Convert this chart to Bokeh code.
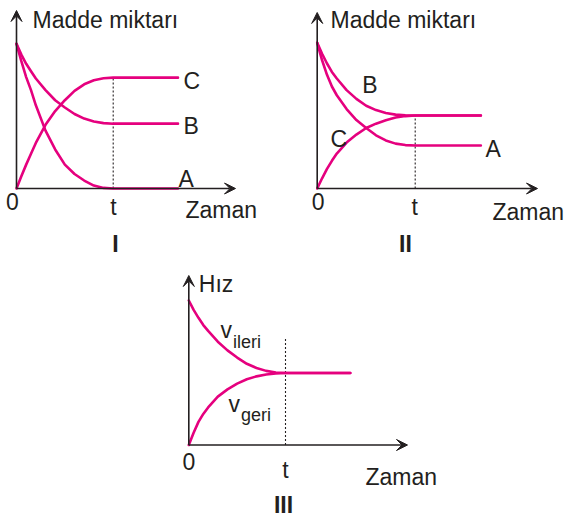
from bokeh.plotting import figure
from bokeh.models import Range1d, Label, Arrow, VeeHead, Spacer
from bokeh.layouts import row, column
from bokeh.embed import file_html
from bokeh.resources import INLINE

# ---------------- data (time in units of t, amounts relative to the start value) -------------
time = [0, 0.05, 0.1, 0.15, 0.2, 0.3, 0.4, 0.5, 0.6, 0.7, 0.8, 0.9, 1.0, 1.67]
t_eq = 1.0
time_ticks = ["0", "t"]

# Panel I
I_A = [1.0, 0.88, 0.77, 0.68, 0.575, 0.40, 0.27, 0.165, 0.10, 0.055, 0.02, 0.004, 0.0, 0.0]
I_B = [1.0, 0.925, 0.862, 0.81, 0.76, 0.68, 0.61, 0.56, 0.515, 0.483, 0.463, 0.452, 0.448, 0.448]
I_C = [0.0, 0.085, 0.165, 0.24, 0.315, 0.44, 0.535, 0.61, 0.675, 0.72, 0.748, 0.762, 0.766, 0.766]
# Panel II
II_A = [1.0, 0.88, 0.78, 0.70, 0.64, 0.545, 0.47, 0.415, 0.365, 0.33, 0.308, 0.298, 0.295, 0.295]
II_B = [1.0, 0.925, 0.858, 0.80, 0.755, 0.675, 0.615, 0.568, 0.538, 0.518, 0.507, 0.502, 0.501, 0.501]
II_C = [0.0, 0.07, 0.135, 0.19, 0.24, 0.315, 0.37, 0.415, 0.445, 0.468, 0.487, 0.497, 0.501, 0.501]
# Panel III
v_ileri = [1.0, 0.935, 0.88, 0.83, 0.79, 0.715, 0.655, 0.605, 0.562, 0.533, 0.513, 0.502, 0.498, 0.498]
v_geri = [0.0, 0.085, 0.16, 0.215, 0.26, 0.335, 0.385, 0.425, 0.455, 0.475, 0.488, 0.495, 0.498, 0.498]

# ---------------- styling ----------------
PINK = "#E5007E"
INK = "#231F20"
FONT = "Liberation Sans"
FS = 23
SUB = 18
ROMAN = 23
BASE_FIX = 0.3  # empirical shift (in em) between requested and rendered baseline


def make_panel(fig_x, fig_y, w, h, ox, oy, ux, uy):
    """fig_x/fig_y: page position of the figure; ox/oy: page position of the origin; ux/uy: px per unit."""
    p = figure(width=w, height=h, output_backend="svg", toolbar_location=None,
               x_axis_type=None, y_axis_type=None, min_border=0,
               x_range=Range1d((fig_x - ox) / ux, (fig_x + w - ox) / ux),
               y_range=Range1d((oy - (fig_y + h)) / uy, (oy - fig_y) / uy))
    p.outline_line_color = None
    p.background_fill_color = "white"
    p.border_fill_color = "white"

    def conv(px, py):
        return (px - ox) / ux, (oy - py) / uy
    return p, conv


def label(p, conv, text, px, py, size=FS, align="left", bold=False):
    x, y = conv(px, py - BASE_FIX * size)
    p.add_layout(Label(x=x, y=y, text=text, text_font=FONT, text_font_size=f"{size}px",
                       text_align=align, text_baseline="alphabetic", text_color=INK,
                       text_font_style="bold" if bold else "normal"))


def axes(p, conv, xtip_px, ytip_px):
    xe, _ = conv(xtip_px, 0)
    _, ye = conv(0, ytip_px)
    for (x1, y1) in [(xe, 0), (0, ye)]:
        p.add_layout(Arrow(x_start=0, y_start=0, x_end=x1, y_end=y1, line_width=1.6,
                           line_color=INK,
                           end=VeeHead(size=11, fill_color=INK, line_color=INK, line_width=1)))


def curve(p, ys):
    p.line(time, ys, line_color=PINK, line_width=2.6, line_join="round", line_cap="round")


def dotted(p, top):
    p.line([t_eq, t_eq], [0, top], line_color=INK, line_width=1.1, line_dash="2 2")


# ---------------- Panel I ----------------
p1, c1 = make_panel(0, 0, 290, 262, 16, 188, 96.7, 144.7)
dotted(p1, I_C[-1])
axes(p1, c1, 235, 10)
for ys in (I_A, I_B, I_C):
    curve(p1, ys)
label(p1, c1, "Madde miktarı", 32, 26.7)
label(p1, c1, "C", 183, 87.3)
label(p1, c1, "B", 183, 132.3)
label(p1, c1, "A", 178, 185)
label(p1, c1, time_ticks[0], 12, 208, align="center")
label(p1, c1, time_ticks[1], 113, 213, align="center")
label(p1, c1, "Zaman", 185, 216.7)
label(p1, c1, "I", 115, 250, size=ROMAN, align="center", bold=True)

# ---------------- Panel II ----------------
p2, c2 = make_panel(290, 0, 278, 262, 316.7, 188, 98, 145.7)
dotted(p2, II_B[-1])
axes(p2, c2, 537, 12)
for ys in (II_A, II_B, II_C):
    curve(p2, ys)
label(p2, c2, "Madde miktarı", 330, 26.7)
label(p2, c2, "B", 361.7, 91.7)
label(p2, c2, "C", 330, 145)
label(p2, c2, "A", 485, 155)
label(p2, c2, time_ticks[0], 317.7, 208, align="center")
label(p2, c2, time_ticks[1], 414.3, 213, align="center")
label(p2, c2, "Zaman", 492, 218.3)
label(p2, c2, "II", 405, 250, size=ROMAN, align="center", bold=True)

# ---------------- Panel III ----------------
p3, c3 = make_panel(160, 262, 300, 258, 188.3, 444.5, 96.7, 144.5)
dotted(p3, 0.745)
axes(p3, c3, 407, 275)
for ys in (v_ileri, v_geri):
    curve(p3, ys)
label(p3, c3, "Hız", 198.3, 290)
label(p3, c3, "v", 220, 336.7)
label(p3, c3, "ileri", 232.5, 346.7, size=SUB)
label(p3, c3, "v", 228, 410.7)
label(p3, c3, "geri", 240.5, 420, size=SUB)
label(p3, c3, time_ticks[0], 188.3, 468, align="center")
label(p3, c3, time_ticks[1], 285, 476.7, align="center")
label(p3, c3, "Zaman", 365, 483)
label(p3, c3, "III", 283, 511, size=ROMAN, align="center", bold=True)

layout = column(row(p1, p2), row(Spacer(width=160, height=258), p3))

open("out.html", "w").write(file_html(layout, INLINE))
